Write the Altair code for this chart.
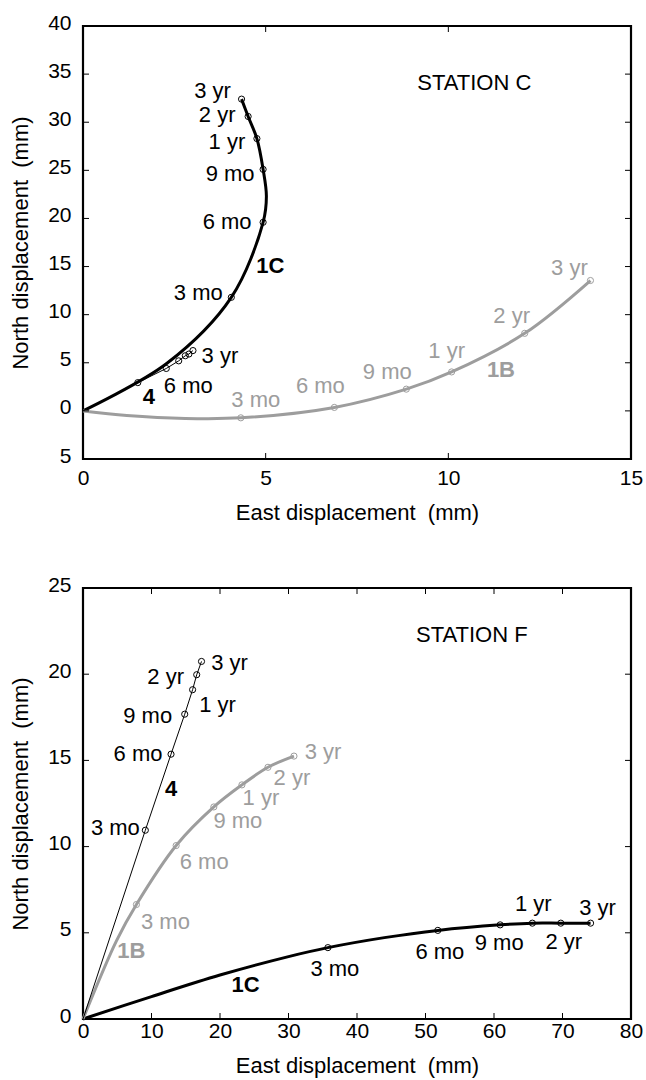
import altair as alt
import pandas as pd

FONT = "Liberation Sans"
GRAY = "#9d9d9d"
STAGES = ["3 mo", "6 mo", "9 mo", "1 yr", "2 yr", "3 yr"]

# ---------------- Station C displacements (mm) ----------------
c1c_east = [4.06, 4.93, 4.93, 4.76, 4.52, 4.34]
c1c_north = [11.8, 19.6, 25.1, 28.3, 30.6, 32.4]
c1b_east = [4.32, 6.88, 8.85, 10.09, 12.09, 13.89]
c1b_north = [-0.72, 0.36, 2.26, 4.05, 8.06, 13.55]
c4_east = [1.50, 2.28, 2.62, 2.80, 2.90, 3.01]
c4_north = [2.94, 4.41, 5.20, 5.73, 5.91, 6.27]

# ---------------- Station F displacements (mm) ----------------
f4_east = [9.1, 12.85, 14.85, 16.0, 16.6, 17.3]
f4_north = [10.95, 15.36, 17.68, 19.1, 19.97, 20.74]
f1b_east = [7.8, 13.6, 19.1, 23.2, 27.0, 30.8]
f1b_north = [6.64, 10.06, 12.3, 13.58, 14.6, 15.25]
f1c_east = [35.75, 51.8, 60.9, 65.6, 69.75, 74.1]
f1c_north = [4.14, 5.14, 5.46, 5.56, 5.56, 5.56]

# points on the drawn curves between the origin / epochs: {epoch index: [(east, north), ...]}
c1c_bends = {0: [(2.29, 4.92)], 2: [(5.02, 22.3)]}
c1b_bends = {0: [(1.2, -0.47), (2.8, -0.78)]}
f1c_bends = {0: [(10.0, 1.3), (20.0, 2.55), (30.0, 3.62)], 1: [(44.0, 4.72)]}
f1b_bends = {0: [(4.9, 4.55)]}

# which epochs are labelled, with label offsets in pixels (dx, dy)
c1c_tags = {0: (-33, -4), 1: (-36, 0), 2: (-33, 5), 3: (-30, 3), 4: (-31, -1), 5: (-29, -8)}
c1b_tags = {0: (15, -18), 1: (-14, -21), 2: (-19, -17), 3: (-5, -21), 4: (-13, -17), 5: (-21, -13)}
c4_tags = {1: (22, 18), 5: (27, 5)}
f4_tags = {0: (-30, -2), 1: (-33, 0), 2: (-37, 2), 3: (25, 15), 4: (-31, 2), 5: (28, 2)}
f1b_tags = {0: (29, 17), 1: (28, 16), 2: (24, 14), 3: (19, 13), 4: (24, 11), 5: (29, -4)}
f1c_tags = {0: (7, 21), 1: (2, 22), 2: (-1, 18), 3: (1, -19), 4: (3, 19), 5: (7, -15)}


def curve_frame(east, north, bends):
    pts = [(0.0, 0.0)]
    for i, (e, n) in enumerate(zip(east, north)):
        pts.extend(bends.get(i, []))
        pts.append((e, n))
    return pd.DataFrame({"e": [p[0] for p in pts], "n": [p[1] for p in pts],
                         "k": list(range(len(pts)))})


def panel(W, H, xdom, ydom, xticks, yticks, series, names, station,
          xlab_pad, xtitle_pad, ylab_expr=None):
    xs = alt.Scale(domain=xdom, nice=False, zero=False)
    ys = alt.Scale(domain=ydom, nice=False, zero=False)
    xa = alt.Axis(values=xticks, title="East displacement\u00a0 (mm)", grid=False,
                  ticks=False, tickSize=0, domain=False, labelFlush=False,
                  labelOverlap=False, labelPadding=xlab_pad, titlePadding=xtitle_pad)
    ykw = dict(values=yticks, title="North displacement\u00a0 (mm)", grid=False,
               ticks=False, tickSize=0, domain=False, labelFlush=False,
               labelOverlap=False, labelPadding=12, titlePadding=15, labelOffset=-3)
    if ylab_expr:
        ykw["labelExpr"] = ylab_expr
    ya = alt.Axis(**ykw)

    def X(f):
        return alt.X(f, type="quantitative", scale=xs, axis=xa)

    def Y(f):
        return alt.Y(f, type="quantitative", scale=ys, axis=ya)

    layers = []
    # curves
    for east, north, bends, color, width, interp, tags in series:
        df = curve_frame(east, north, bends)
        layers.append(
            alt.Chart(df).mark_line(color=color, strokeWidth=width, interpolate=interp)
            .encode(x=X("e"), y=Y("n"), order=alt.Order("k:Q"))
        )
    # epoch markers and their labels
    for east, north, bends, color, width, interp, tags in series:
        pts = pd.DataFrame({"e": east, "n": north, "t": STAGES})
        layers.append(
            alt.Chart(pts).mark_point(shape="circle", filled=False, size=38,
                                      strokeWidth=1, color=color, opacity=1)
            .encode(x=X("e"), y=Y("n"))
        )
        for i, (dx, dy) in tags.items():
            one = pts.iloc[[i]]
            layers.append(
                alt.Chart(one).mark_text(dx=dx, dy=dy, font=FONT, fontSize=22,
                                         color=color, align="center", baseline="middle")
                .encode(x=X("e"), y=Y("n"), text="t:N")
            )
    # curve names
    nm = pd.DataFrame(names, columns=["e", "n", "t", "c"])
    for _, row in nm.iterrows():
        layers.append(
            alt.Chart(pd.DataFrame([row])).mark_text(font=FONT, fontSize=22, fontWeight="bold",
                                                     color=row["c"], align="center",
                                                     baseline="middle")
            .encode(x=X("e"), y=Y("n"), text="t:N")
        )
    # station heading
    st = pd.DataFrame([station], columns=["e", "n", "t"])
    layers.append(
        alt.Chart(st).mark_text(font=FONT, fontSize=22, color="black", align="center",
                                baseline="middle")
        .encode(x=X("e"), y=Y("n"), text="t:N")
    )
    # inward tick marks on all four sides
    xt = pd.DataFrame({"v": xticks[1:-1]})
    yt = pd.DataFrame({"v": yticks[1:-1]})
    tick = dict(color="black", strokeWidth=1)
    layers += [
        alt.Chart(xt).mark_rule(**tick).encode(x=X("v"), y=alt.value(H), y2=alt.value(H - 6)),
        alt.Chart(xt).mark_rule(**tick).encode(x=X("v"), y=alt.value(0), y2=alt.value(6)),
        alt.Chart(yt).mark_rule(**tick).encode(y=Y("v"), x=alt.value(0), x2=alt.value(6)),
        alt.Chart(yt).mark_rule(**tick).encode(y=Y("v"), x=alt.value(W), x2=alt.value(W - 6)),
    ]
    return alt.layer(*layers).properties(width=W, height=H)


top = panel(
    548, 433, [0, 15], [-5, 40], [0, 5, 10, 15], [-5, 0, 5, 10, 15, 20, 25, 30, 35, 40],
    [
        (c1c_east, c1c_north, c1c_bends, "black", 3, "catmull-rom", c1c_tags),
        (c1b_east, c1b_north, c1b_bends, GRAY, 3, "catmull-rom", c1b_tags),
        (c4_east, c4_north, {}, "black", 1, "linear", c4_tags),
    ],
    [(5.13, 15.1, "1C", "black"), (1.80, 1.43, "4", "black"), (11.44, 4.3, "1B", GRAY)],
    (10.71, 34.05, "STATION C"),
    8, 14, ylab_expr="abs(datum.value)",
)

bottom = panel(
    548, 431, [0, 80], [0, 25], [0, 10, 20, 30, 40, 50, 60, 70, 80], [0, 5, 10, 15, 20, 25],
    [
        (f1c_east, f1c_north, f1c_bends, "black", 3, "catmull-rom", f1c_tags),
        (f1b_east, f1b_north, f1b_bends, GRAY, 3, "catmull-rom", f1b_tags),
        (f4_east, f4_north, {}, "black", 1, "linear", f4_tags),
    ],
    [(12.86, 13.34, "4", "black"), (7.07, 3.96, "1B", GRAY), (23.73, 2.0, "1C", "black")],
    (56.76, 22.3, "STATION F"),
    1, 14,
)

chart = (
    alt.vconcat(top, bottom, spacing=47)
    .properties(padding={"left": 8, "top": 10, "right": 0, "bottom": 0}, background="white")
    .configure_view(stroke="black", strokeWidth=2.2)
    .configure_axis(labelFont=FONT, labelFontSize=21, labelColor="black",
                    titleFont=FONT, titleFontSize=22, titleFontWeight="normal",
                    titleColor="black")
)

chart.save("out.html", embed_options={"renderer": "svg", "actions": False})
